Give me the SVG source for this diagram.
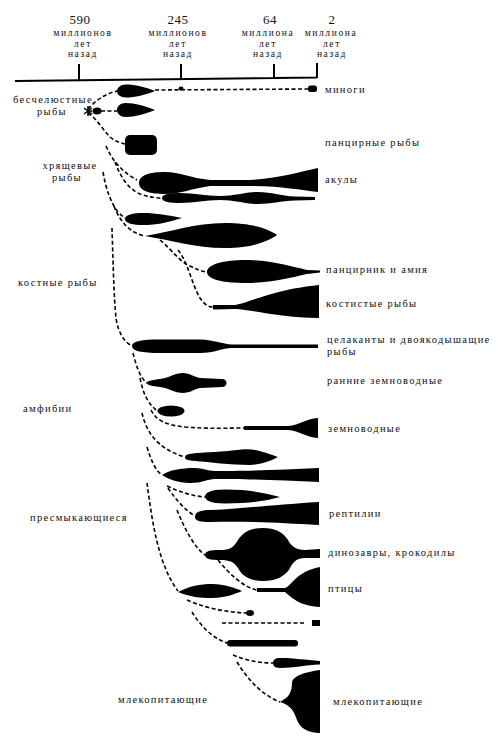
<svg xmlns="http://www.w3.org/2000/svg" width="498" height="739" viewBox="0 0 498 739">
<style>
text{font-family:"Liberation Serif",serif;font-size:10.5px;fill:#111;letter-spacing:1.3px}
.c{text-anchor:middle}
.h{font-size:13px;letter-spacing:0.5px}
.t{font-size:9.5px;letter-spacing:1.6px}
.s{fill:#000;stroke:none}
.d{fill:none;stroke:#000;stroke-width:1.6;stroke-dasharray:4 2.5}
.ax{fill:none;stroke:#000;stroke-width:2}
</style>
<rect width="498" height="739" fill="#fff"/>
<g id="timeline">
<path class="ax" d="M15,81 L317,77.5 M79,64 L79,80 M181,64 L181,79 M274,64 L274,78 M317,63 L317,78"/>
<text class="c h" x="80" y="24">590</text>
<text class="c t" x="83" y="36">миллионов</text>
<text class="c t" x="83" y="46.5">лет</text>
<text class="c t" x="83" y="57">назад</text>
<text class="c h" x="178" y="24">245</text>
<text class="c t" x="178" y="36">миллионов</text>
<text class="c t" x="178" y="46.5">лет</text>
<text class="c t" x="178" y="57">назад</text>
<text class="c h" x="270" y="24">64</text>
<text class="c t" x="268" y="36">миллиона</text>
<text class="c t" x="268" y="46.5">лет</text>
<text class="c t" x="268" y="57">назад</text>
<text class="c h" x="332" y="24">2</text>
<text class="c t" x="331" y="36">миллиона</text>
<text class="c t" x="332" y="46.5">лет</text>
<text class="c t" x="332" y="57">назад</text>
</g>
<g id="groups">
<text class="c" x="53" y="103">бесчелюстные</text>
<text class="c" x="52" y="115">рыбы</text>
<text class="c" x="70" y="169">хрящевые</text>
<text class="c" x="67" y="181">рыбы</text>
<text x="18" y="286">костные рыбы</text>
<text x="23" y="412">амфибии</text>
<text x="30" y="521">пресмыкающиеся</text>
<text x="118" y="703">млекопитающие</text>
</g>
<g id="connectors">
<path class="d" d="M88,109 C96,100 106,93 118,91"/>
<path class="d" d="M88,111 L117,111"/>
<path class="d" d="M88,113 C98,120 103,130 110,137 C115,141 120,143 125,144"/>
<path class="d" d="M155,90 L308,89"/>
<path class="d" d="M106,146 C112,160 122,172 137,180"/>
<path class="d" d="M115,162 C120,176 128,189 140,194 C148,197 155,198 162,198"/>
<path class="d" d="M103,172 C106,190 112,205 118,212 C121,215 123,217 125,218"/>
<path class="d" d="M114,206 C120,222 130,233 145,236"/>
<path class="d" d="M160,240 C172,250 180,262 190,266 C196,269 200,271 207,272"/>
<path class="d" d="M178,250 C188,262 192,285 200,298 C204,304 208,307 213,307"/>
<path class="d" d="M112,228 C113,260 114,300 116,318 C118,332 124,342 132,346"/>
<path class="d" d="M133,353 C136,365 140,378 147,383"/>
<path class="d" d="M140,378 C143,393 148,405 158,411"/>
<path class="d" d="M151,410 C156,420 165,425 185,427 C210,429 230,428 244,428"/>
<path class="d" d="M142,413 C146,430 155,448 185,457"/>
<path class="d" d="M147,447 C151,460 155,470 162,475"/>
<path class="d" d="M167,486 C180,492 192,496 205,497"/>
<path class="d" d="M168,488 C176,500 185,510 195,516"/>
<path class="d" d="M177,510 C185,530 195,548 205,555"/>
<path class="d" d="M218,560 C230,575 245,588 257,590"/>
<path class="d" d="M147,483 C152,520 158,565 178,591"/>
<path class="d" d="M187,600 C205,608 225,612 246,613"/>
<path class="d" d="M222,623 L305,623"/>
<path class="d" d="M192,612 C200,625 212,638 227,643"/>
<path class="d" d="M233,655 C245,660 258,663 273,663"/>
<path class="d" d="M237,662 C248,680 262,695 280,702"/>
</g>
<g id="origin">
<path d="M84,108 L92,114 M84,114 L92,108 M88,106 L88,116" stroke="#000" stroke-width="1.5"/>
</g>
<g id="lampreys">
<path class="s" d="M155,91 C145,87 135,84.5 126,84.5 C120,84.5 117,88 117,91 C117,94 120,97.5 126,97.5 C135,97.5 145,95 155,91 Z"/>
<ellipse class="s" cx="181" cy="88.5" rx="2.5" ry="2"/>
<rect class="s" x="308" y="85.5" width="9" height="6.5" rx="2.5"/>
<text x="325" y="93">миноги</text>
</g>
<g id="jawless2">
<ellipse class="s" cx="97" cy="111" rx="4.5" ry="3.5"/>
<path class="s" d="M155,110 C145,106 135,103 126,103 C120,103 117,106.5 117,110 C117,113.5 120,117 126,117 C135,117 145,114 155,110 Z"/>
</g>
<g id="placoderms">
<rect class="s" x="125" y="135" width="32" height="20" rx="5"/>
<text x="325" y="146">панцирные рыбы</text>
</g>
<g id="sharks">
<path class="s" d="M139,183 C139,175 150,172 165,172 C180,172 190,178 210,180 L250,180 C280,178 300,172 318,168 L318,192 C300,190 280,186 250,186 L210,186 C190,189 180,194 165,194 C150,194 139,191 139,183 Z"/>
<path class="s" d="M162,198 C162,194 170,193 180,193 C195,193 205,196 220,196 C235,196 245,192 258,192 C272,192 280,196 295,196.5 L315,197 L315,200 L295,200.5 C280,201 272,204 258,204 C245,204 235,200 220,200 C205,200 195,203 180,203 C170,203 162,202 162,198 Z"/>
<text x="325" y="183">акулы</text>
</g>
<g id="bony-early">
<path class="s" d="M125,219 C125,214 135,212.5 148,213 C162,214 172,216 182,218 C172,221 162,224 148,225 C135,225.5 125,224 125,219 Z"/>
<path class="s" d="M145,236 C170,232 195,223 225,223 C255,223 270,230 277,235 C270,240 255,248 225,248 C195,248 170,240 145,236 Z"/>
</g>
<g id="gars">
<path class="s" d="M207,272 C207,264 225,260 245,260 C270,260 290,266 307,270 L320,270.5 L320,272.5 L307,274 C290,278 270,283 245,283 C225,283 207,280 207,272 Z"/>
<text x="326" y="273">панцирник и амия</text>
</g>
<g id="teleosts">
<path class="s" d="M213,305 L235,305 C250,303 270,290 319,285 L319,318 C280,318 255,310 235,309 L213,309.5 Z"/>
<text x="326" y="307">костистые рыбы</text>
</g>
<g id="coelacanths">
<path class="s" d="M132,346 C132,341 142,339.5 160,339.5 L200,339.5 C215,340 222,344 232,344.5 L318,344.5 L318,348 L232,348 C222,348 215,353 200,353 L160,353 C142,353 132,351 132,346 Z"/>
<text x="327" y="343">целаканты и двоякодышащие</text>
<text x="327" y="355">рыбы</text>
</g>
<g id="early-amphibians">
<path class="s" d="M147,383 C147,380 155,380 165,378 C172,376 176,373 183,373 C190,373 194,377 200,378 L222,379 C228,379 228,387 222,387 L200,388 C194,389 190,393 183,393 C176,393 172,390 165,388 C155,386 147,386 147,383 Z"/>
<ellipse class="s" cx="171" cy="411" rx="13.5" ry="5.5"/>
<text x="327" y="384">ранние земноводные</text>
</g>
<g id="amphibians">
<path class="s" d="M244,426 L288,426 C300,425 305,419 318,418 L318,438 C305,437 300,431 288,430 L244,430 Z"/>
<text x="328" y="432">земноводные</text>
</g>
<g id="reptiles">
<path class="s" d="M185,457 C185,453 195,453 215,452 C235,451 245,448 255,450 C265,452 272,455 278,457 C272,460 265,464 250,465 C230,465 210,462 195,461 C187,460 185,460 185,457 Z"/>
<path class="s" d="M162,475 C170,470 180,468 195,468 C203,468 207,471 215,471 C240,471 280,470 319,468 L319,482 C280,480 240,479 215,479 C207,479 203,483 190,483 C178,483 168,479 162,475 Z"/>
<path class="s" d="M280,497 C265,493 250,489.5 225,489.5 C210,489.5 205,493 205,496.5 C205,500 210,503.5 225,503.5 C250,503.5 265,501 280,497 Z"/>
<path class="s" d="M195,517 C195,512 200,510 210,510 C240,509 270,505 319,502 L319,525 C280,523 250,521 210,522 C200,522 195,521 195,517 Z"/>
<text x="329" y="517">рептилии</text>
</g>
<g id="dinosaurs">
<path class="s" d="M205,555 C205,551 210,550 220,550 C230,550 233,548 238,540 C244,531 252,528 263,528 C275,528 283,532 288,540 C291,546 296,550 305,550 L320,549 L320,558 L305,558 C297,558 293,562 290,568 C285,577 275,581 263,581 C250,581 242,576 238,568 C234,562 230,560 220,560 C210,560 205,559 205,555 Z"/>
<text x="328" y="556">динозавры, крокодилы</text>
</g>
<g id="birds">
<path class="s" d="M257,588 L285,588 C292,586 295,572 320,567 L320,607 C300,606 292,598 285,592 L257,592 Z"/>
<text x="328" y="592">птицы</text>
</g>
<g id="synapsids">
<path class="s" d="M178,592 C190,586 200,584 212,584 C225,584 235,588 242,591 C235,594 225,598 212,598 C200,598 190,597 178,592 Z"/>
<ellipse class="s" cx="250" cy="613" rx="4" ry="3"/>
<rect class="s" x="312" y="620" width="8" height="6"/>
<rect class="s" x="227" y="640" width="71" height="6.5" rx="3"/>
<path class="s" d="M280,658 C295,658 305,660 320,661 L320,664.5 C305,665 295,668 280,668 C274,668 273,665 273,663 C273,660 275,658 280,658 Z"/>
</g>
<g id="mammals">
<path class="s" d="M320,670 L320,733 C308,733 300,728 297,720 C294,712 292,707 283,703 L280,702 L286,698 C291,694 292,688 292,682 C293,676 305,672 320,670 Z"/>
<text x="333" y="705">млекопитающие</text>
</g>
</svg>
